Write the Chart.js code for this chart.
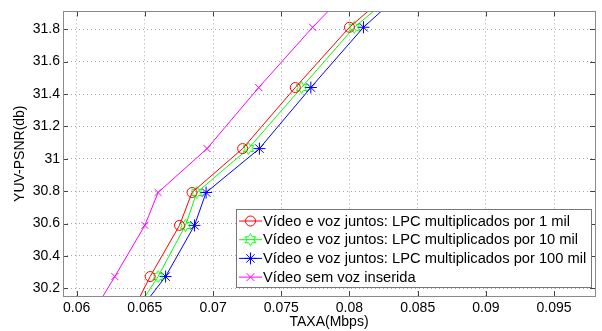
<!DOCTYPE html>
<html>
<head>
<meta charset="utf-8">
<script src="https://cdn.jsdelivr.net/npm/chart.js@4.4.1/dist/chart.umd.min.js"></script>
<style>
html,body{margin:0;padding:0;background:#fff;}
#wrap{width:602px;height:331px;}
</style>
</head>
<body>
<div id="wrap"><canvas id="c" width="602" height="331"></canvas></div>
<script>
// ---- data ----
const psnr = [30.0, 30.273, 30.589, 30.792, 31.063, 31.44, 31.812, 32.0];
const rateLPC1k   = [0.06375, 0.06539, 0.06754, 0.06846, 0.07217, 0.07603, 0.08000, 0.08259];
const rateLPC10k  = [0.06385, 0.06597, 0.06798, 0.06881, 0.07259, 0.07649, 0.08035, 0.08304];
const rateLPC100k = [0.06403, 0.06652, 0.06864, 0.06949, 0.07340, 0.07717, 0.08103, 0.08351];
const rateNoVoice = [0.06084, 0.06280, 0.06500, 0.06597, 0.06956, 0.07335, 0.07730, 0.07946];
const seriesLabels = [
  'Vídeo e voz juntos: LPC multiplicados por 1 mil',
  'Vídeo e voz juntos: LPC multiplicados por 10 mil',
  'Vídeo e voz juntos: LPC multiplicados por 100 mil',
  'Vídeo sem voz inserida'
];
const xTickValues = [0.06, 0.065, 0.07, 0.075, 0.08, 0.085, 0.09, 0.095];
const xTickLabels = ['0.06', '0.065', '0.07', '0.075', '0.08', '0.085', '0.09', '0.095'];
const yTickValues = [30.2, 30.4, 30.6, 30.8, 31, 31.2, 31.4, 31.6, 31.8];
const yTickLabels = ['30.2', '30.4', '30.6', '30.8', '31', '31.2', '31.4', '31.6', '31.8'];
const xTitle = 'TAXA(Mbps)';
const yTitle = 'YUV-PSNR(db)';

const FONT = "'Liberation Sans', Arial, sans-serif";

function hexagramCanvas(color) {
  const s = 15, c = document.createElement('canvas');
  c.width = s; c.height = s;
  const g = c.getContext('2d');
  const cx = s / 2, cy = s / 2, R = 6, r = R / Math.sqrt(3);
  g.beginPath();
  for (let i = 0; i < 12; i++) {
    const a = -Math.PI / 2 + i * Math.PI / 6;
    const rad = (i % 2 === 0) ? R : r;
    const px = cx + rad * Math.cos(a), py = cy + rad * Math.sin(a);
    if (i === 0) g.moveTo(px, py); else g.lineTo(px, py);
  }
  g.closePath();
  g.strokeStyle = color; g.lineWidth = 1; g.stroke();
  return c;
}
const hexGreen = hexagramCanvas('#00ff00');

function pts(xs) { return xs.map((x, i) => ({x: x, y: psnr[i]})); }

const styles = [
  {color: '#ff0000', pointStyle: 'circle', radius: 5},
  {color: '#00ff00', pointStyle: hexGreen, radius: 6},
  {color: '#0000ff', pointStyle: 'star', radius: 6},
  {color: '#ff00ff', pointStyle: 'crossRot', radius: 5}
];
const rates = [rateLPC1k, rateLPC10k, rateLPC100k, rateNoVoice];

const datasets = rates.map((r, i) => ({
  label: seriesLabels[i],
  data: pts(r),
  showLine: true,
  borderColor: styles[i].color,
  backgroundColor: 'rgba(0,0,0,0)',
  borderWidth: 1,
  pointStyle: styles[i].pointStyle,
  pointRadius: styles[i].radius,
  pointHoverRadius: styles[i].radius,
  pointBorderColor: styles[i].color,
  pointBackgroundColor: 'rgba(0,0,0,0)',
  pointBorderWidth: 1,
  tension: 0
}));

const boxPlugin = {
  id: 'boxTicks',
  afterDatasetsDraw(chart) {
    const {ctx, chartArea: a, scales} = chart;
    ctx.save();
    ctx.strokeStyle = '#444';
    ctx.lineWidth = 1;
    const L = 5;
    ctx.beginPath();
    xTickValues.forEach(v => {
      const x = Math.round(scales.x.getPixelForValue(v)) + 0.5;
      ctx.moveTo(x, a.bottom); ctx.lineTo(x, a.bottom - L);
      ctx.moveTo(x, a.top); ctx.lineTo(x, a.top + L);
    });
    yTickValues.forEach(v => {
      const y = Math.round(scales.y.getPixelForValue(v)) + 0.5;
      ctx.moveTo(a.left, y); ctx.lineTo(a.left + L, y);
      ctx.moveTo(a.right, y); ctx.lineTo(a.right - L, y);
    });
    ctx.stroke();
    ctx.strokeStyle = '#8a8a8a';
    ctx.strokeRect(Math.round(a.left) + 0.5, Math.round(a.top) + 0.5,
                   Math.round(a.right - a.left), Math.round(a.bottom - a.top));
    ctx.restore();
  },
  afterDraw(chart) {
    const ctx = chart.ctx;
    const bx = 236.5, by = 209.5, bw = 355, bh = 78;
    ctx.save();
    ctx.fillStyle = '#fff';
    ctx.fillRect(bx, by, bw, bh);
    ctx.strokeStyle = '#777';
    ctx.lineWidth = 1;
    ctx.strokeRect(bx, by, bw, bh);
    const rowH = 18.7, y0 = 221;
    ctx.font = '14.7px ' + FONT;
    ctx.textBaseline = 'middle';
    ctx.textAlign = 'left';
    datasets.forEach((d, i) => {
      const y = y0 + i * rowH;
      const st = styles[i];
      ctx.strokeStyle = st.color;
      ctx.lineWidth = 1;
      ctx.beginPath();
      ctx.moveTo(239, y); ctx.lineTo(262, y);
      ctx.stroke();
      const cx = 250.5;
      if (st.pointStyle === 'circle') {
        ctx.beginPath(); ctx.arc(cx, y, st.radius, 0, Math.PI * 2); ctx.stroke();
      } else if (st.pointStyle === 'star') {
        ctx.beginPath();
        const r = st.radius;
        ctx.moveTo(cx - r, y); ctx.lineTo(cx + r, y);
        ctx.moveTo(cx, y - r); ctx.lineTo(cx, y + r);
        const k = r * Math.SQRT1_2;
        ctx.moveTo(cx - k, y - k); ctx.lineTo(cx + k, y + k);
        ctx.moveTo(cx - k, y + k); ctx.lineTo(cx + k, y - k);
        ctx.stroke();
      } else if (st.pointStyle === 'crossRot') {
        ctx.beginPath();
        const k = st.radius * Math.SQRT1_2 * 1.1;
        ctx.moveTo(cx - k, y - k); ctx.lineTo(cx + k, y + k);
        ctx.moveTo(cx - k, y + k); ctx.lineTo(cx + k, y - k);
        ctx.stroke();
      } else {
        const img = st.pointStyle;
        ctx.drawImage(img, cx - img.width / 2, y - img.height / 2);
      }
      ctx.fillStyle = '#000';
      ctx.fillText(d.label, 263, y + 0.5);
    });
    ctx.restore();
  }
};

const gridCfg = {
  display: true,
  color: '#a8a8a8',
  lineWidth: 1,
  drawTicks: false,
  tickLength: 0
};

new Chart(document.getElementById('c'), {
  type: 'scatter',
  data: {datasets: datasets},
  options: {
    responsive: false,
    animation: false,
    devicePixelRatio: 1,
    layout: {padding: {left: 0, top: 9, right: 3, bottom: 0}},
    plugins: {legend: {display: false}, tooltip: {enabled: false}},
    scales: {
      x: {
        type: 'linear',
        min: 0.059, max: 0.098,
        afterBuildTicks: s => { s.ticks = xTickValues.map(v => ({value: v})); },
        afterFit: s => { s.height = 35; },
        ticks: {
          padding: 4,
          color: '#000',
          font: {family: FONT, size: 14},
          callback: (v) => { const i = xTickValues.findIndex(t => Math.abs(t - v) < 1e-9); return i >= 0 ? xTickLabels[i] : ''; },
          maxRotation: 0, autoSkip: false
        },
        grid: Object.assign({}, gridCfg),
        border: {display: false, dash: [1, 3]},
        title: {display: true, text: xTitle, color: '#000', font: {family: FONT, size: 14}, padding: {top: 0, bottom: 0}}
      },
      y: {
        type: 'linear',
        min: 30.153, max: 31.91,
        afterBuildTicks: s => { s.ticks = yTickValues.map(v => ({value: v})); },
        afterFit: s => { s.width = 63; },
        ticks: {
          padding: 3,
          color: '#000',
          font: {family: FONT, size: 14},
          callback: (v) => { const i = yTickValues.findIndex(t => Math.abs(t - v) < 1e-9); return i >= 0 ? yTickLabels[i] : ''; },
          autoSkip: false
        },
        grid: Object.assign({}, gridCfg),
        border: {display: false, dash: [1, 3]},
        title: {display: true, text: yTitle, color: '#000', font: {family: FONT, size: 14}, padding: {top: 12, bottom: 0}}
      }
    }
  },
  plugins: [boxPlugin]
});
</script>
</body>
</html>
